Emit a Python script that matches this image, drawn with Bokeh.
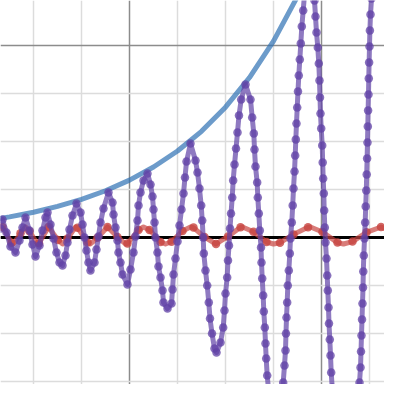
from bokeh.plotting import figure
from bokeh.models import Range1d, FixedTicker, Span
from bokeh.embed import file_html
from bokeh.resources import INLINE

# ---- data (grid units: one minor grid cell = 1) ----
grid_major_x = [0, 4]
grid_minor_x = [-3, -2, -1, 1, 2, 3, 5, 6]
grid_major_y = [-4, 0, 4]
grid_minor_y = [-3, -2, -1, 1, 2, 3, 5]

# exponential envelope (blue)
blue_x = [-2.8, -2.5, -2.0, -1.5, -1.0, -0.5, 0.0, 0.5, 1.0, 1.5, 2.0, 2.5, 3.0, 3.5, 3.75]
blue_y = [0.379, 0.429, 0.527, 0.647, 0.794, 0.974, 1.196, 1.468, 1.802, 2.212, 2.715, 3.333, 4.092, 5.023, 5.565]

# small oscillation (red): line vertices
red_x = [-2.646, -2.458, -2.417, -2.271, -2.167, -2.083, -1.917, -1.885, -1.688, -1.490,
         -1.396, -1.292, -1.125, -1.083, -0.875, -0.813, -0.667, -0.458, -0.25, -0.083,
         -0.042, 0.188, 0.292, 0.417, 0.646, 0.75, 0.875, 1.104, 1.271, 1.333,
         1.563, 1.802, 2.052, 2.313, 2.354, 2.583, 2.854, 3.0, 3.135, 3.417,
         3.719, 3.771, 4.021, 4.333, 4.458, 4.646, 4.938, 5.240, 5.542]
red_y = [0.219, -0.108, -0.135, 0.088, 0.219, 0.130, -0.135, -0.119, 0.219, -0.052,
         -0.135, -0.021, 0.219, 0.204, -0.102, -0.135, -0.006, 0.219, 0.010, -0.135,
         -0.125, 0.156, 0.219, 0.158, -0.092, -0.135, -0.088, 0.135, 0.219, 0.206,
         0.008, -0.135, 0.021, 0.215, 0.219, 0.119, -0.094, -0.135, -0.108, 0.065,
         0.215, 0.219, 0.115, -0.106, -0.135, -0.085, 0.108, 0.219, 0.081]
# red sample dots
red_dot_x = [-2.646, -2.458, -2.271, -2.083, -1.885, -1.688, -1.490, -1.292, -1.083, -0.875,
             -0.667, -0.458, -0.25, -0.042, 0.188, 0.417, 0.646, 0.875, 1.104, 1.333,
             1.563, 1.802, 2.052, 2.313, 2.583, 2.854, 3.135, 3.417, 3.719, 4.021,
             4.333, 4.646, 4.938, 5.240, 5.542]
red_dot_y = [0.219, -0.108, 0.088, 0.130, -0.119, 0.219, -0.052, -0.021, 0.204, -0.102,
             -0.006, 0.219, 0.010, -0.125, 0.156, 0.158, -0.092, -0.088, 0.135, 0.206,
             0.008, -0.135, 0.021, 0.215, 0.119, -0.094, -0.108, 0.065, 0.215, 0.115,
             -0.106, -0.085, 0.108, 0.219, 0.081]

# growing oscillation (purple): sample points (x, y)
purple_pts = [
    (-2.688, 0.188), (-2.646, 0.375), (-2.563, 0.104), (-2.479, -0.188), (-2.375, -0.313),
    (-2.292, -0.063), (-2.229, 0.208), (-2.167, 0.417), (-2.083, 0.146), (-2.021, -0.146),
    (-1.958, -0.396), (-1.875, -0.167), (-1.813, 0.146), (-1.75, 0.417), (-1.708, 0.521),
    (-1.646, 0.271), (-1.583, -0.021), (-1.521, -0.313), (-1.458, -0.521), (-1.396, -0.583),
    (-1.333, -0.375), (-1.292, -0.104), (-1.25, 0.167), (-1.188, 0.458), (-1.104, 0.708),
    (-1.021, 0.521), (-0.979, 0.271), (-0.938, 0.0), (-0.896, -0.271), (-0.854, -0.521),
    (-0.813, -0.688), (-0.729, -0.521), (-0.688, -0.25), (-0.646, 0.021), (-0.604, 0.313),
    (-0.542, 0.604), (-0.438, 0.938), (-0.354, 0.729), (-0.333, 0.479), (-0.292, 0.208),
    (-0.25, -0.063), (-0.229, -0.313), (-0.188, -0.521), (-0.146, -0.771), (-0.042, -0.979),
    (0.021, -0.667), (0.083, -0.313), (0.125, 0.021), (0.167, 0.354), (0.188, 0.667),
    (0.229, 0.938), (0.292, 1.188), (0.375, 1.333), (0.438, 1.104), (0.479, 0.854),
    (0.5, 0.583), (0.521, 0.313), (0.542, 0.0), (0.583, -0.313), (0.604, -0.604),
    (0.646, -0.833), (0.688, -1.104), (0.708, -1.354), (0.792, -1.479), (0.875, -1.375),
    (0.896, -1.083), (0.917, -0.771), (0.958, -0.438), (1.0, -0.083), (1.042, 0.25),
    (1.083, 0.583), (1.125, 0.917), (1.156, 1.25), (1.188, 1.583), (1.271, 1.958),
    (1.375, 1.604), (1.417, 1.354), (1.458, 1.021), (1.494, 0.667), (1.515, 0.354),
    (1.535, 0.0), (1.548, -0.333), (1.583, -0.688), (1.619, -1.0), (1.652, -1.354),
    (1.677, -1.688), (1.719, -2.0), (1.771, -2.313), (1.813, -2.396), (1.896, -2.188),
    (1.952, -1.875), (1.979, -1.521), (2.0, -1.167), (2.035, -0.833), (2.052, -0.479),
    (2.073, -0.167), (2.094, 0.188), (2.115, 0.5), (2.140, 0.833), (2.160, 1.188),
    (2.188, 1.521), (2.219, 1.854), (2.25, 2.188), (2.281, 2.542), (2.327, 2.875),
    (2.417, 3.188), (2.521, 2.875), (2.556, 2.5), (2.590, 2.167), (2.604, 1.833),
    (2.625, 1.479), (2.660, 1.146), (2.673, 0.833), (2.694, 0.5), (2.715, 0.146),
    (2.740, -0.208), (2.75, -0.521), (2.765, -0.854), (2.785, -1.208), (2.798, -1.542),
    (2.819, -1.875), (2.833, -2.208), (2.848, -2.521), (2.869, -2.875), (2.902, -3.229),
    (2.938, -3.604), (3.042, -4.229), (3.146, -3.646), (3.181, -3.333), (3.202, -3.021),
    (3.229, -2.667), (3.25, -2.354), (3.260, -2.0), (3.271, -1.667), (3.285, -1.354),
    (3.298, -1.0), (3.319, -0.688), (3.340, -0.333), (3.354, -0.021), (3.381, 0.313),
    (3.4, 0.667), (3.417, 1.021), (3.438, 1.375), (3.452, 1.708), (3.465, 2.042),
    (3.479, 2.375), (3.494, 2.708), (3.510, 3.042), (3.527, 3.375), (3.548, 3.708),
    (3.569, 4.042), (3.590, 4.396), (3.619, 4.729), (3.646, 5.063), (3.75, 5.667),
    (3.854, 4.938), (3.875, 4.604), (3.896, 4.271), (3.923, 3.958), (3.944, 3.625),
    (3.958, 3.271), (3.969, 2.917), (3.979, 2.583), (3.994, 2.271), (4.015, 1.917),
    (4.025, 1.563), (4.035, 1.229), (4.048, 0.917), (4.056, 0.563), (4.069, 0.208),
    (4.083, -0.104), (4.104, -0.438), (4.119, -0.792), (4.131, -1.104), (4.146, -1.458),
    (4.156, -1.792), (4.173, -2.125), (4.188, -2.458), (4.202, -2.813), (4.223, -3.125),
    (4.25, -3.458), (4.5, -7.5), (4.75, -3.688), (4.777, -3.354), (4.792, -3.021),
    (4.813, -2.708), (4.823, -2.375), (4.833, -2.042), (4.844, -1.708), (4.854, -1.375),
    (4.865, -1.042), (4.871, -0.708), (4.881, -0.375), (4.896, -0.021), (4.910, 0.313),
    (4.921, 0.646), (4.933, 0.979), (4.942, 1.313), (4.95, 1.646), (4.958, 1.979),
    (4.965, 2.313), (4.971, 2.646), (4.979, 2.979), (4.985, 3.313), (4.992, 3.646),
    (5.0, 3.979), (5.008, 4.313), (5.021, 4.646), (5.042, 4.979), (5.292, 10.5),
    (5.542, 4.979), (5.563, 4.646), (5.583, 3.688), (5.604, 2.438),
]
purple_x = [pt[0] for pt in purple_pts]
purple_y = [pt[1] for pt in purple_pts]

# ---- colours ----
BLUE = "#2d70b3"
RED = "#c74440"
PURPLE = "#6042a6"

p = figure(width=384, height=384,
           x_range=Range1d(-129 / 48, 255 / 48), y_range=Range1d(-147 / 48, 237 / 48),
           output_backend="svg", toolbar_location=None,
           x_axis_location=None, y_axis_location=None,
           min_border=0, outline_line_color=None,
           background_fill_color="white", border_fill_color="white")

p.xgrid.ticker = FixedTicker(ticks=grid_major_x, minor_ticks=grid_minor_x)
p.ygrid.ticker = FixedTicker(ticks=grid_major_y, minor_ticks=grid_minor_y)
for g in (p.xgrid, p.ygrid):
    g.grid_line_color = "#8c8c8c"
    g.grid_line_width = 1.5
    g.minor_grid_line_color = "#dcdcdc"
    g.minor_grid_line_width = 1.5

p.add_layout(Span(location=0, dimension="width", line_color="black",
                  line_width=3, level="underlay"))

p.line(blue_x, blue_y, line_color=BLUE, line_alpha=0.7, line_width=5, line_join="round")

p.line(red_x, red_y, line_color=RED, line_alpha=0.7, line_width=5, line_join="round")
p.scatter(red_dot_x, red_dot_y, size=8.5, fill_color=RED, fill_alpha=0.8, line_color=None)

p.line(purple_x, purple_y, line_color=PURPLE, line_alpha=0.7, line_width=5, line_join="round")
p.scatter(purple_x, purple_y, size=8.5, fill_color=PURPLE, fill_alpha=0.75, line_color=None)

open("out.html", "w").write(file_html(p, INLINE))
